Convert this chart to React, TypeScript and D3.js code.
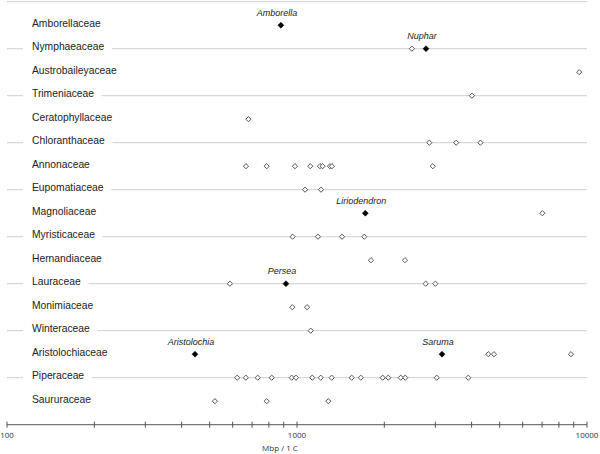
import React, { useEffect, useRef } from "react";
import * as d3 from "d3";

const families = [
  "Amborellaceae", "Nymphaeaceae", "Austrobaileyaceae", "Trimeniaceae", "Ceratophyllaceae",
  "Chloranthaceae", "Annonaceae", "Eupomatiaceae", "Magnoliaceae", "Myristicaceae",
  "Hernandiaceae", "Lauraceae", "Monimiaceae", "Winteraceae", "Aristolochiaceae",
  "Piperaceae", "Saururaceae",
];

// open-diamond genome sizes (Mbp / 1C) per family, same order as families
const genomeSizes: number[][] = [
  [],
  [2490],
  [9400],
  [4010],
  [680],
  [2860, 3540, 4290],
  [667, 786, 984, 1111, 1200, 1226, 1299, 1320, 2938],
  [1066, 1210],
  [7015],
  [966, 1181, 1430, 1706],
  [1800, 2357],
  [587, 2778, 2999],
  [963, 1083],
  [1115],
  [4567, 4778, 8806],
  [622, 666, 732, 818, 959, 992, 1129, 1207, 1317, 1544, 1659, 1975, 2064, 2279, 2362, 3032, 3896],
  [521, 786, 1282],
];

// sequenced genera (filled diamonds)
const highlightFamilies = ["Amborellaceae", "Nymphaeaceae", "Magnoliaceae", "Lauraceae", "Aristolochiaceae", "Aristolochiaceae"];
const highlightGenera = ["Amborella", "Nuphar", "Liriodendron", "Persea", "Aristolochia", "Saruma"];
const highlightValues = [880, 2785, 1720, 916, 445, 3162];

const tickValues = [100, 200, 300, 400, 500, 600, 700, 800, 900, 1000, 2000, 3000, 4000, 5000, 6000, 7000, 8000, 9000, 10000];
const tickLabels = ["100", "1000", "10000"];
const axisTitle = "Mbp / 1 C";

export default function App() {
  const ref = useRef<SVGSVGElement>(null);

  useEffect(() => {
    const svg = d3.select(ref.current);
    svg.selectAll("*").remove();

    const x = d3.scaleLog().domain([100, 10000]).range([7, 587]);
    const y = d3.scalePoint<string>().domain(families).range([25.2, 401.2]);
    const step = y.step();
    const axisY = (y(families[families.length - 1]) as number) + step;
    const topY = (y(families[0]) as number) - step;

    const diamond = (cx: number, cy: number, r: number) =>
      `M${cx},${cy - r}L${cx + r},${cy}L${cx},${cy + r}L${cx - r},${cy}Z`;

    // top line
    svg.append("line").attr("x1", 7).attr("x2", 587).attr("y1", topY).attr("y2", topY)
      .attr("stroke", "#cfcfcf").attr("stroke-width", 1);

    // grid lines on every other row
    families.forEach((f, i) => {
      if (i % 2 === 1) {
        svg.append("line").attr("x1", 7).attr("x2", 587)
          .attr("y1", y(f) as number).attr("y2", y(f) as number)
          .attr("stroke", "#cfcfcf").attr("stroke-width", 1);
      }
    });

    // family labels with white backgrounds
    families.forEach((f) => {
      const g = svg.append("g");
      const t = g.append("text").attr("x", 32).attr("y", (y(f) as number) + 1.5)
        .attr("font-family", "Liberation Sans, Arial, sans-serif").attr("font-size", 10.3)
        .attr("fill", "#222").text(f);
      const bb = (t.node() as SVGTextElement).getBBox();
      g.insert("rect", "text").attr("x", bb.x - 9).attr("y", bb.y)
        .attr("width", bb.width + 16.5).attr("height", bb.height).attr("fill", "#fff");
    });

    // open diamonds
    families.forEach((f, i) => {
      genomeSizes[i].forEach((v) => {
        svg.append("path").attr("d", diamond(x(v), y(f) as number, 2.6))
          .attr("fill", "#fff").attr("stroke", "#555").attr("stroke-width", 1);
      });
    });

    // filled diamonds + genus labels
    highlightGenera.forEach((g, i) => {
      const cx = x(highlightValues[i]);
      const cy = y(highlightFamilies[i]) as number;
      svg.append("path").attr("d", diamond(cx, cy, 3)).attr("fill", "#000").attr("stroke", "#000").attr("stroke-width", 0.5);
      svg.append("text").attr("x", cx - 4).attr("y", cy - 9.5).attr("text-anchor", "middle")
        .attr("font-family", "Liberation Sans, Arial, sans-serif").attr("font-size", 9)
        .attr("font-style", "italic").attr("fill", "#222").text(g);
    });

    // axis
    const ax = svg.append("g");
    ax.append("line").attr("x1", 7).attr("x2", 587).attr("y1", axisY).attr("y2", axisY)
      .attr("stroke", "#555").attr("stroke-width", 1);
    tickValues.forEach((v) => {
      ax.append("line").attr("x1", x(v)).attr("x2", x(v)).attr("y1", axisY - 3).attr("y2", axisY + 3)
        .attr("stroke", "#555").attr("stroke-width", 1);
    });
    tickLabels.forEach((l) => {
      ax.append("text").attr("x", x(+l)).attr("y", axisY + 13.5).attr("text-anchor", "middle")
        .attr("font-family", "Open Sans, sans-serif").attr("font-size", 8).attr("fill", "#333").text(l);
    });
    ax.append("text").attr("x", 280).attr("y", axisY + 26).attr("text-anchor", "middle")
      .attr("font-family", "Open Sans, sans-serif").attr("font-size", 8).attr("fill", "#333").text(axisTitle);
  }, []);

  return (
    <svg ref={ref} width={600} height={454}
      style={{ position: "absolute", left: 0, top: 0, background: "#fff" }} />
  );
}
